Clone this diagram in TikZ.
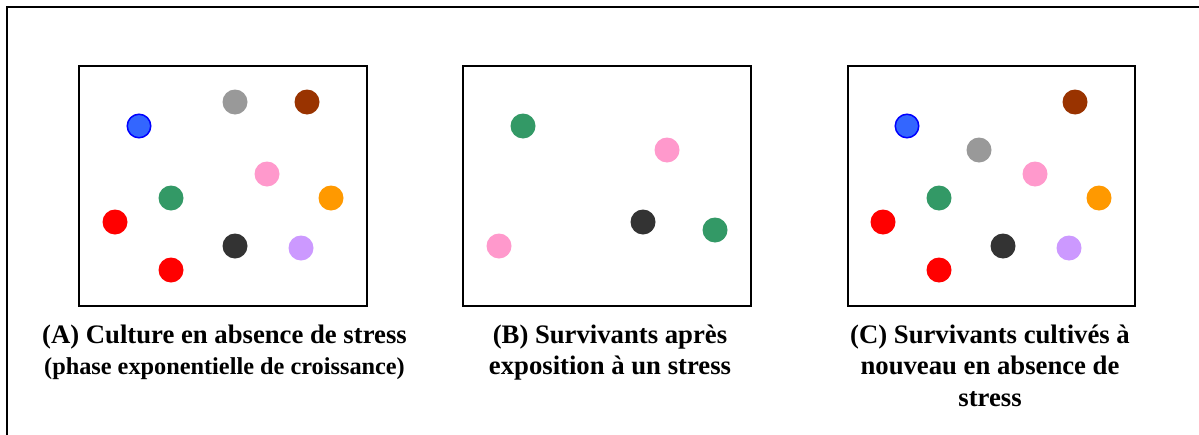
\documentclass[tikz,border=0pt]{standalone}
\usepackage{fontspec}
\setmainfont{Liberation Serif}
\begin{document}
\begin{tikzpicture}[x=1pt,y=-1pt,
  frame/.style={draw=black,line width=2pt},
  dish/.style={draw=black,line width=2pt,fill=white},
  cell/.style={circle,inner sep=0pt,minimum size=25pt,draw=none},
  blu/.style={cell,fill={rgb,255:red,51;green,102;blue,255},draw={rgb,255:red,0;green,0;blue,255},line width=1.5pt,minimum size=23.5pt},
  gry/.style={cell,fill={rgb,255:red,153;green,153;blue,153}},
  brn/.style={cell,fill={rgb,255:red,153;green,51;blue,0}},
  pnk/.style={cell,fill={rgb,255:red,255;green,153;blue,204}},
  grn/.style={cell,fill={rgb,255:red,51;green,153;blue,102}},
  org/.style={cell,fill={rgb,255:red,255;green,153;blue,0}},
  rd/.style={cell,fill={rgb,255:red,255;green,0;blue,0}},
  blk/.style={cell,fill={rgb,255:red,51;green,51;blue,51}},
  lav/.style={cell,fill={rgb,255:red,204;green,153;blue,255}},
  caption/.style={align=center,font=\bfseries\fontsize{26.7}{31.5}\selectfont,inner sep=0pt,anchor=north}
]
\useasboundingbox (0,0) rectangle (1199,434);
% outer frame (only top and left edges fall inside the page)
\draw[frame] (7,450) -- (7,7) -- (1210,7);

% culture dishes
\draw[dish] (79,66) rectangle (367,306);
\draw[dish] (463,66) rectangle (751,306);
\draw[dish] (848,66) rectangle (1135,306);

% (A) culture without stress
\node[blu] (a1) at (139,126) {};
\node[gry] (a2) at (235,102) {};
\node[brn] (a3) at (307,102) {};
\node[pnk] (a4) at (267,174) {};
\node[grn] (a5) at (171,198) {};
\node[org] (a6) at (331,198) {};
\node[rd]  (a7) at (115,222) {};
\node[blk] (a8) at (235,246) {};
\node[lav] (a9) at (301,248) {};
\node[rd]  (a10) at (171,270) {};

% (B) survivors after stress
\node[grn] (b1) at (523,126) {};
\node[pnk] (b2) at (667,150) {};
\node[blk] (b3) at (643,222) {};
\node[grn] (b4) at (715,230) {};
\node[pnk] (b5) at (499,246) {};

% (C) survivors regrown without stress
\node[blu] (c1) at (907,126) {};
\node[brn] (c2) at (1075,102) {};
\node[gry] (c3) at (979,150) {};
\node[pnk] (c4) at (1035,174) {};
\node[grn] (c5) at (939,198) {};
\node[org] (c6) at (1099,198) {};
\node[rd]  (c7) at (883,222) {};
\node[blk] (c8) at (1003,246) {};
\node[lav] (c9) at (1069,248) {};
\node[rd]  (c10) at (939,270) {};

% captions
\node[caption] (capA) at (224.5,324.5) {(A) Culture en absence de stress\\{\fontsize{24.3}{30}\selectfont (phase exponentielle de croissance)}};
\node[caption] (capB) at (610,324.5) {(B) Survivants après\\exposition à un stress};
\node[caption] (capC) at (990,324.5) {(C) Survivants cultivés à\\nouveau en absence de\\stress};
\end{tikzpicture}
\end{document}
